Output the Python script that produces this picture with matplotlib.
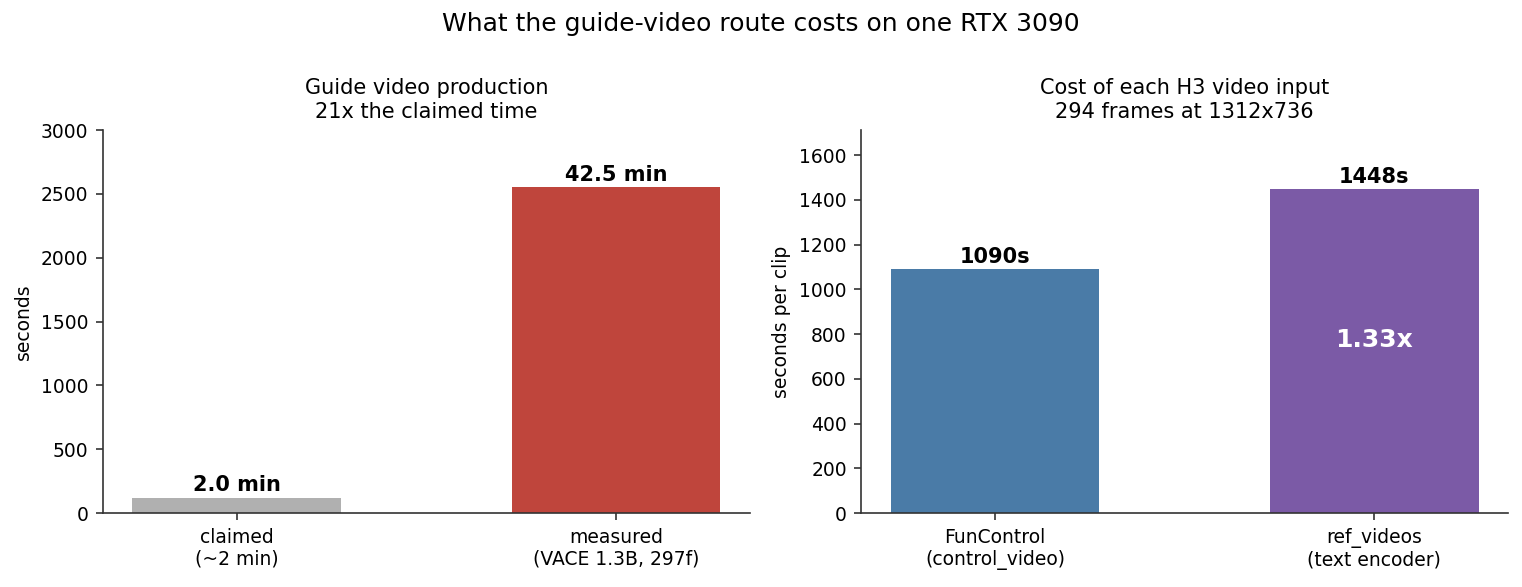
import matplotlib.pyplot as plt

# guide video production (seconds)
prod_labels = ["claimed\n(~2 min)", "measured\n(VACE 1.3B, 297f)"]
prod_seconds = [120, 2550]
prod_colors = ["#b0b0b0", "#bf453c"]

# cost per H3 video input (seconds per clip)
input_labels = ["FunControl\n(control_video)", "ref_videos\n(text encoder)"]
input_seconds = [1090, 1448]
input_colors = ["#4a7ba7", "#7b5aa6"]

plt.rcParams["axes.edgecolor"] = "#333333"
plt.rcParams["xtick.color"] = "#333333"
plt.rcParams["ytick.color"] = "#333333"
plt.rcParams["xtick.labelcolor"] = "black"
plt.rcParams["ytick.labelcolor"] = "black"

fig, (ax1, ax2) = plt.subplots(1, 2, figsize=(1522 / 150, 587 / 150), dpi=150)

x = range(len(prod_labels))
ax1.bar(x, prod_seconds, width=0.55, color=prod_colors)
for i, v in enumerate(prod_seconds):
    ax1.text(i, v + 20, f"{v / 60:.1f} min", ha="center", va="bottom",
             fontsize=10, fontweight="bold")
ax1.set_xticks(list(x))
ax1.set_xticklabels(prod_labels, fontsize=9)
ax1.set_ylim(0, 3000)
ax1.set_ylabel("seconds", fontsize=9)
ax1.set_title("Guide video production\n21x the claimed time", fontsize=10)
ax1.tick_params(axis="y", labelsize=9)

x = range(len(input_labels))
ax2.bar(x, input_seconds, width=0.55, color=input_colors)
for i, v in enumerate(input_seconds):
    ax2.text(i, v + 8, f"{v}s", ha="center", va="bottom",
             fontsize=10, fontweight="bold")
ratio = input_seconds[1] / input_seconds[0]
ax2.text(1, input_seconds[1] / 2 + 50, f"{ratio:.2f}x", ha="center", va="center",
         fontsize=12, fontweight="bold", color="white")
ax2.set_xticks(list(x))
ax2.set_xticklabels(input_labels, fontsize=9)
ax2.set_ylim(0, 1712)
ax2.set_ylabel("seconds per clip", fontsize=9)
ax2.set_title("Cost of each H3 video input\n294 frames at 1312x736", fontsize=10)
ax2.tick_params(axis="y", labelsize=9)

for ax in (ax1, ax2):
    ax.spines["top"].set_visible(False)
    ax.spines["right"].set_visible(False)

fig.suptitle("What the guide-video route costs on one RTX 3090", fontsize=12)
fig.subplots_adjust(left=0.0677, right=0.9908, top=0.7785, bottom=0.126, wspace=0.173)
fig.savefig("out.png", dpi=150)
